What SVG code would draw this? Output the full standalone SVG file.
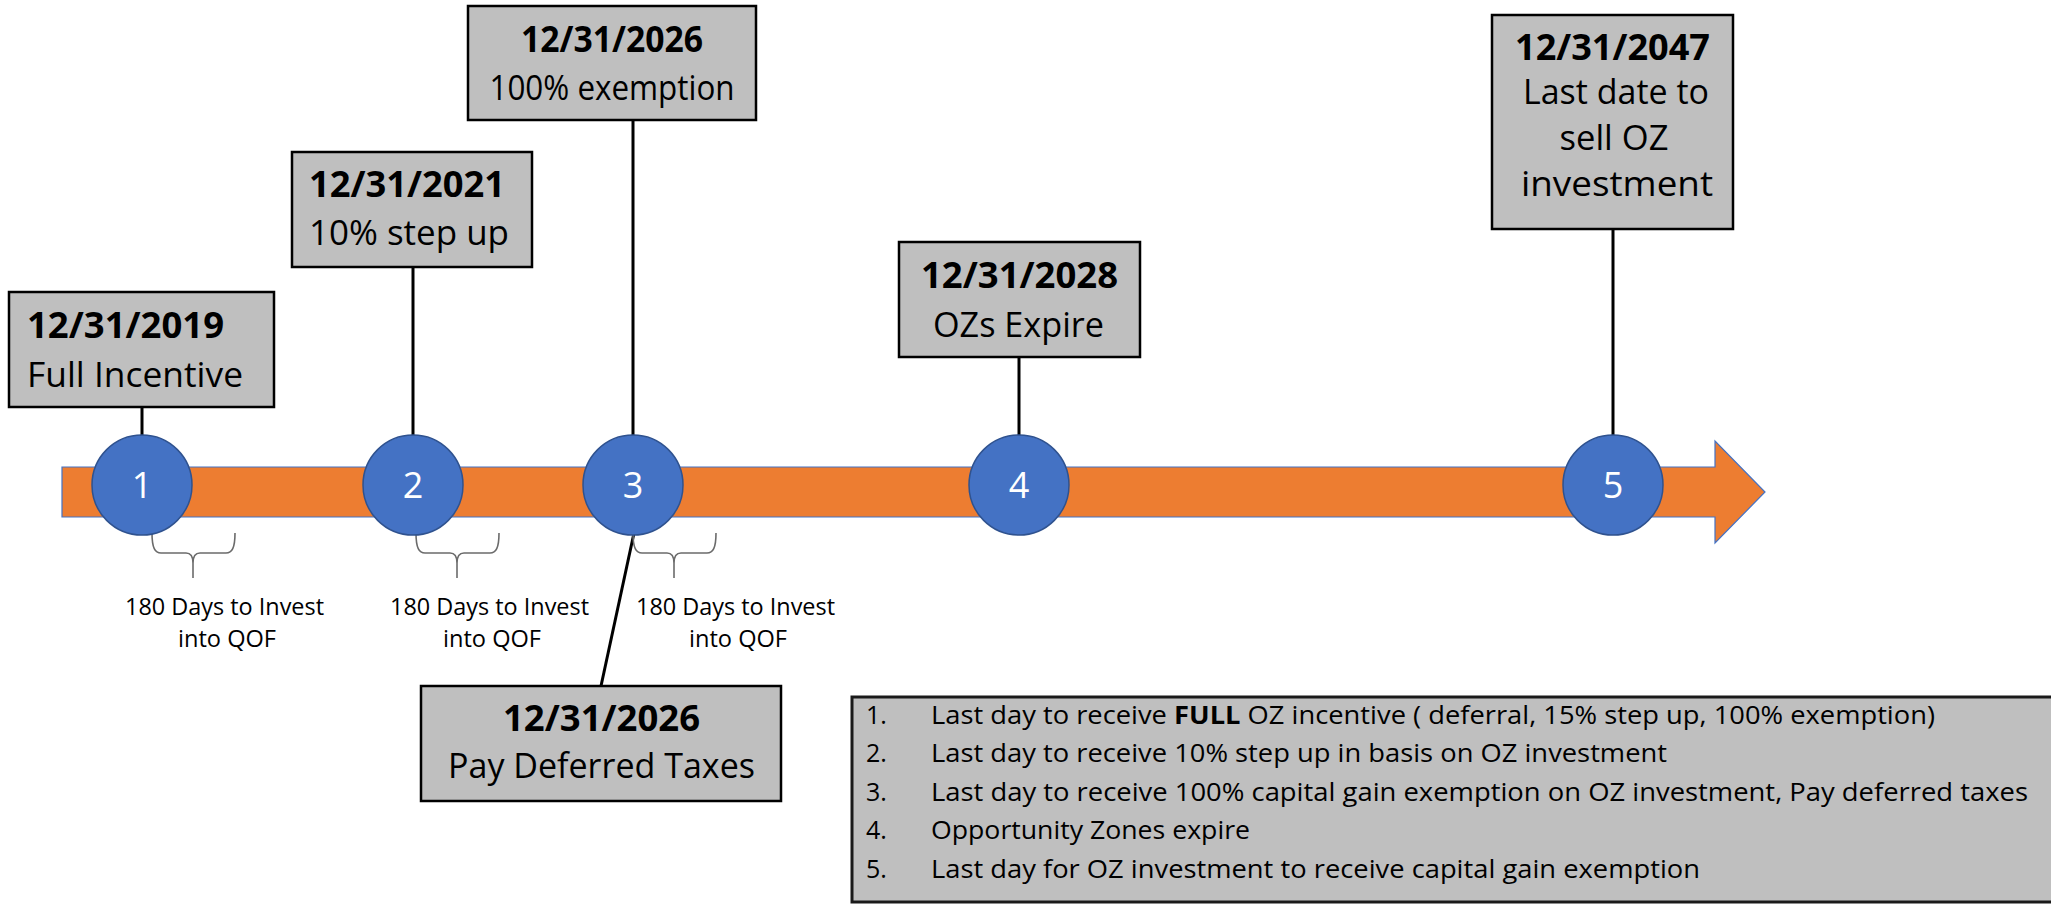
<svg xmlns="http://www.w3.org/2000/svg" width="2051" height="904" viewBox="0 0 2051 904">
<style>
.box{fill:#bfbfbf;stroke:#000;stroke-width:2.5}
.t{font-family:"Open Sans","Liberation Sans",sans-serif;fill:#000}
.date{font-size:35px;font-weight:bold}
.lbl{font-size:35px}
.mid{text-anchor:middle}
.conn{stroke:#000;stroke-width:3;fill:none}
.brace{stroke:#6b6b6b;stroke-width:1.6;fill:none}
.dot{fill:#4472c4;stroke:#2f528f;stroke-width:1.5}
.num{font-family:"Open Sans","Liberation Sans",sans-serif;font-size:36px;fill:#fff;text-anchor:middle}
.small{font-family:"Open Sans","Liberation Sans",sans-serif;font-size:23.5px;fill:#000;text-anchor:middle}
.leg{font-family:"Open Sans","Liberation Sans",sans-serif;font-size:25px;fill:#000}
</style>
<rect width="2051" height="904" fill="#fff"/>
<g id="timeline">
<path d="M62,467 L1715,467 L1715,441 L1765,492 L1715,543 L1715,517 L62,517 Z" fill="#ed7d31" stroke="#4472c4" stroke-width="1.2"/>
</g>
<g id="connectors">
<line class="conn" x1="142" y1="407" x2="142" y2="436"/>
<line class="conn" x1="413" y1="267" x2="413" y2="436"/>
<line class="conn" x1="633" y1="120" x2="633" y2="436"/>
<line class="conn" x1="1019" y1="357" x2="1019" y2="436"/>
<line class="conn" x1="1613" y1="229" x2="1613" y2="436"/>
<line class="conn" x1="634" y1="533" x2="601" y2="686"/>
</g>
<g id="braces">
<path class="brace" d="M152,533 C152,548 155,553 161,553 L186,553 C191,553 193,556 193,563 L193,578 M193,563 C193,556 195,553 200,553 L226,553 C232,553 235,548 235,533"/>
<path class="brace" d="M416,533 C416,548 419,553 425,553 L450,553 C455,553 457,556 457,563 L457,578 M457,563 C457,556 459,553 464,553 L490,553 C496,553 499,548 499,533"/>
<path class="brace" d="M633,533 C633,548 636,553 642,553 L667,553 C672,553 674,556 674,563 L674,578 M674,563 C674,556 676,553 681,553 L707,553 C713,553 716,548 716,533"/>
</g>
<g id="milestone1">
<ellipse class="dot" cx="142" cy="485" rx="50" ry="50"/>
<text class="num" x="142" y="498">1</text>
</g>
<g id="milestone2">
<ellipse class="dot" cx="413" cy="485" rx="50" ry="50"/>
<text class="num" x="413" y="498">2</text>
</g>
<g id="milestone3">
<ellipse class="dot" cx="633" cy="485" rx="50" ry="50"/>
<text class="num" x="633" y="498">3</text>
</g>
<g id="milestone4">
<ellipse class="dot" cx="1019" cy="485" rx="50" ry="50"/>
<text class="num" x="1019" y="498">4</text>
</g>
<g id="milestone5">
<ellipse class="dot" cx="1613" cy="485" rx="50" ry="50"/>
<text class="num" x="1613" y="498">5</text>
</g>
<g id="note1">
<text class="small" x="224.5" y="615" textLength="199" lengthAdjust="spacingAndGlyphs">180 Days to Invest</text>
<text class="small" x="227" y="647" textLength="98" lengthAdjust="spacingAndGlyphs">into QOF</text>
</g>
<g id="note2">
<text class="small" x="489.5" y="615" textLength="199" lengthAdjust="spacingAndGlyphs">180 Days to Invest</text>
<text class="small" x="492" y="647" textLength="98" lengthAdjust="spacingAndGlyphs">into QOF</text>
</g>
<g id="note3">
<text class="small" x="735.5" y="615" textLength="199" lengthAdjust="spacingAndGlyphs">180 Days to Invest</text>
<text class="small" x="738" y="647" textLength="98" lengthAdjust="spacingAndGlyphs">into QOF</text>
</g>
<g id="box1">
<rect class="box" x="9" y="292" width="265" height="115"/>
<text class="t date" x="27" y="338" textLength="197" lengthAdjust="spacingAndGlyphs">12/31/2019</text>
<text class="t lbl" x="27" y="387" textLength="216" lengthAdjust="spacingAndGlyphs">Full Incentive</text>
</g>
<g id="box2">
<rect class="box" x="292" y="152" width="240" height="115"/>
<text class="t date" x="309" y="197" textLength="196" lengthAdjust="spacingAndGlyphs">12/31/2021</text>
<text class="t lbl" x="309" y="245" textLength="200" lengthAdjust="spacingAndGlyphs">10% step up</text>
</g>
<g id="box3">
<rect class="box" x="468" y="6" width="288" height="114"/>
<text class="t date mid" x="612" y="52" textLength="182" lengthAdjust="spacingAndGlyphs">12/31/2026</text>
<text class="t lbl mid" x="612" y="100" textLength="245" lengthAdjust="spacingAndGlyphs">100% exemption</text>
</g>
<g id="box4">
<rect class="box" x="899" y="242" width="241" height="115"/>
<text class="t date mid" x="1019.5" y="288" textLength="197" lengthAdjust="spacingAndGlyphs">12/31/2028</text>
<text class="t lbl mid" x="1018.5" y="337" textLength="171" lengthAdjust="spacingAndGlyphs">OZs Expire</text>
</g>
<g id="box5">
<rect class="box" x="1492" y="15" width="241" height="214"/>
<text class="t date mid" x="1612.5" y="60" textLength="195" lengthAdjust="spacingAndGlyphs">12/31/2047</text>
<text class="t lbl mid" x="1616" y="104" textLength="186" lengthAdjust="spacingAndGlyphs">Last date to</text>
<text class="t lbl mid" x="1614" y="150" textLength="109" lengthAdjust="spacingAndGlyphs">sell OZ</text>
<text class="t lbl mid" x="1617" y="196" textLength="192" lengthAdjust="spacingAndGlyphs">investment</text>
</g>
<g id="box6">
<rect class="box" x="421" y="686" width="360" height="115"/>
<text class="t date mid" x="601.5" y="731" textLength="197" lengthAdjust="spacingAndGlyphs">12/31/2026</text>
<text class="t lbl mid" x="601.5" y="778" textLength="307" lengthAdjust="spacingAndGlyphs">Pay Deferred Taxes</text>
</g>
<g id="legend">
<rect x="852" y="697" width="1215" height="205" fill="#bfbfbf" stroke="#1a1a1a" stroke-width="3"/>
<text class="leg" x="866" y="724">1.</text>
<text class="leg" x="866" y="762">2.</text>
<text class="leg" x="866" y="801">3.</text>
<text class="leg" x="866" y="839">4.</text>
<text class="leg" x="866" y="878">5.</text>
<text class="leg" x="931" y="724" textLength="1004" lengthAdjust="spacingAndGlyphs">Last day to receive <tspan font-weight="bold">FULL</tspan> OZ incentive ( deferral, 15% step up, 100% exemption)</text>
<text class="leg" x="931" y="762" textLength="736" lengthAdjust="spacingAndGlyphs">Last day to receive 10% step up in basis on OZ investment</text>
<text class="leg" x="931" y="801" textLength="1097" lengthAdjust="spacingAndGlyphs">Last day to receive 100% capital gain exemption on OZ investment, Pay deferred taxes</text>
<text class="leg" x="931" y="839" textLength="319" lengthAdjust="spacingAndGlyphs">Opportunity Zones expire</text>
<text class="leg" x="931" y="878" textLength="769" lengthAdjust="spacingAndGlyphs">Last day for OZ investment to receive capital gain exemption</text>
</g>
</svg>
